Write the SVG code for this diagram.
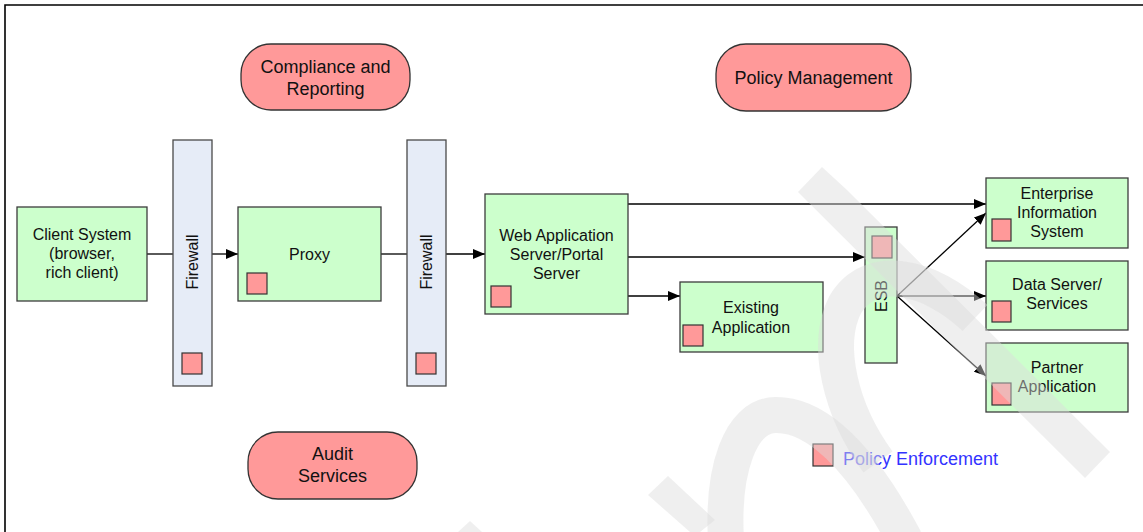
<svg xmlns="http://www.w3.org/2000/svg" width="1143" height="532" viewBox="0 0 1143 532">
<defs>
<style>
.box{fill:#ccffcc;stroke:#3c3c3c;stroke-width:1.3}
.fw{fill:#e6ecf7;stroke:#4a4a4a;stroke-width:1.3}
.pill{fill:#ff9999;stroke:#333;stroke-width:1.3}
.pe{fill:#ff9999;stroke:#333;stroke-width:1.2}
.t{font-family:"Liberation Sans",Arial,sans-serif;font-size:16px;fill:#111;text-anchor:middle}
.tl{font-family:"Liberation Sans",Arial,sans-serif;font-size:18px;fill:#111;text-anchor:middle}
.conn{stroke:#000;stroke-width:1.3;fill:none}
.wm{fill:#dcdcdc;opacity:0.45}
.wms{stroke:#dcdcdc;fill:none;opacity:0.45;stroke-width:36}
</style>
<marker id="arr" viewBox="0 0 12 10" refX="12" refY="5" markerWidth="12" markerHeight="10" markerUnits="userSpaceOnUse" orient="auto">
<path d="M0,0 L12,5 L0,10 z" fill="#000"/>
</marker>
</defs>
<rect x="0" y="0" width="1143" height="532" fill="#fff"/>
<path d="M5,532 L5,5 L1143,5" fill="none" stroke="#000" stroke-width="1.6"/>

<g id="compliance">
<rect class="pill" x="241" y="44" width="169" height="66" rx="30" ry="30"/>
<text class="tl" x="325.5" y="73">Compliance and</text>
<text class="tl" x="325.5" y="95">Reporting</text>
</g>
<g id="policy-management">
<rect class="pill" x="716" y="44" width="195" height="67" rx="30" ry="30"/>
<text class="tl" x="813.5" y="84">Policy Management</text>
</g>
<g id="audit">
<rect class="pill" x="248" y="432" width="169" height="67" rx="30" ry="30"/>
<text class="tl" x="332.5" y="460">Audit</text>
<text class="tl" x="332.5" y="482">Services</text>
</g>

<g id="connectors">
<line class="conn" x1="147" y1="254" x2="173" y2="254"/>
<line class="conn" x1="212" y1="254" x2="238" y2="254" marker-end="url(#arr)"/>
<line class="conn" x1="381" y1="254" x2="407" y2="254"/>
<line class="conn" x1="446" y1="254" x2="485" y2="254" marker-end="url(#arr)"/>
<line class="conn" x1="628" y1="204" x2="986" y2="204" marker-end="url(#arr)"/>
<line class="conn" x1="628" y1="257" x2="865" y2="257" marker-end="url(#arr)"/>
<line class="conn" x1="628" y1="296" x2="680" y2="296" marker-end="url(#arr)"/>
<line class="conn" x1="897" y1="296" x2="986" y2="213" marker-end="url(#arr)"/>
<line class="conn" x1="897" y1="296" x2="986" y2="296" marker-end="url(#arr)"/>
<line class="conn" x1="897" y1="296" x2="986" y2="376" marker-end="url(#arr)"/>
</g>

<g id="client">
<rect class="box" x="17" y="207" width="130" height="94"/>
<text class="t" x="82" y="240">Client System</text>
<text class="t" x="82" y="259">(browser,</text>
<text class="t" x="82" y="278">rich client)</text>
</g>
<g id="firewall1">
<rect class="fw" x="173" y="140" width="39" height="246"/>
<text class="t" x="192" y="262" dy="6" transform="rotate(-90 192 262)">Firewall</text>
<rect class="pe" x="182" y="353" width="20" height="21"/>
</g>
<g id="proxy">
<rect class="box" x="238" y="207" width="143" height="94"/>
<text class="t" x="309.5" y="260">Proxy</text>
<rect class="pe" x="247" y="273" width="20" height="21"/>
</g>
<g id="firewall2">
<rect class="fw" x="407" y="140" width="39" height="246"/>
<text class="t" x="426" y="262" dy="6" transform="rotate(-90 426 262)">Firewall</text>
<rect class="pe" x="416" y="353" width="20" height="21"/>
</g>
<g id="webapp">
<rect class="box" x="485" y="194" width="143" height="120"/>
<text class="t" x="556.5" y="241">Web Application</text>
<text class="t" x="556.5" y="260">Server/Portal</text>
<text class="t" x="556.5" y="279">Server</text>
<rect class="pe" x="491" y="286" width="20" height="21"/>
</g>
<g id="existing">
<rect class="box" x="680" y="282" width="143" height="70"/>
<text class="t" x="751" y="313">Existing</text>
<text class="t" x="751" y="333">Application</text>
<rect class="pe" x="683" y="325" width="20" height="21"/>
</g>
<g id="esb">
<rect class="box" x="865" y="227" width="32" height="136"/>
<rect class="pe" x="872" y="236" width="20" height="22"/>
<text class="t" x="881" y="296" dy="6" transform="rotate(-90 881 296)">ESB</text>
</g>
<g id="eis">
<rect class="box" x="986" y="178" width="142" height="70"/>
<text class="t" x="1057" y="199">Enterprise</text>
<text class="t" x="1057" y="218">Information</text>
<text class="t" x="1057" y="237">System</text>
<rect class="pe" x="992" y="219" width="19" height="22"/>
</g>
<g id="dataserver">
<rect class="box" x="986" y="261" width="142" height="69"/>
<text class="t" x="1057" y="290">Data Server/</text>
<text class="t" x="1057" y="309">Services</text>
<rect class="pe" x="992" y="301" width="19" height="21"/>
</g>
<g id="partner">
<rect class="box" x="986" y="343" width="142" height="69"/>
<text class="t" x="1057" y="373">Partner</text>
<text class="t" x="1057" y="392">Application</text>
<rect class="pe" x="992" y="383" width="19" height="22"/>
</g>
<g id="legend">
<rect class="pe" x="813" y="444" width="20" height="22"/>
<text x="843" y="465" font-family="Liberation Sans, Arial, sans-serif" font-size="18" fill="#3333ff">Policy Enforcement</text>
</g>

<g id="watermark">
<polygon class="wm" points="822,167 847,190 1110,452 1085,478 798,192"/>
<path class="wms" d="M975,318 C930,275 870,262 845,305 C825,345 840,410 878,462"/>
<path class="wms" d="M726,540 C722,470 740,416 775,415 C815,414 860,455 905,540"/>
<polygon class="wm" points="648,495 668,476 715,520 700,532 690,532"/>
<polygon class="wm" points="458,532 470,521 482,532"/>
</g>
</svg>
